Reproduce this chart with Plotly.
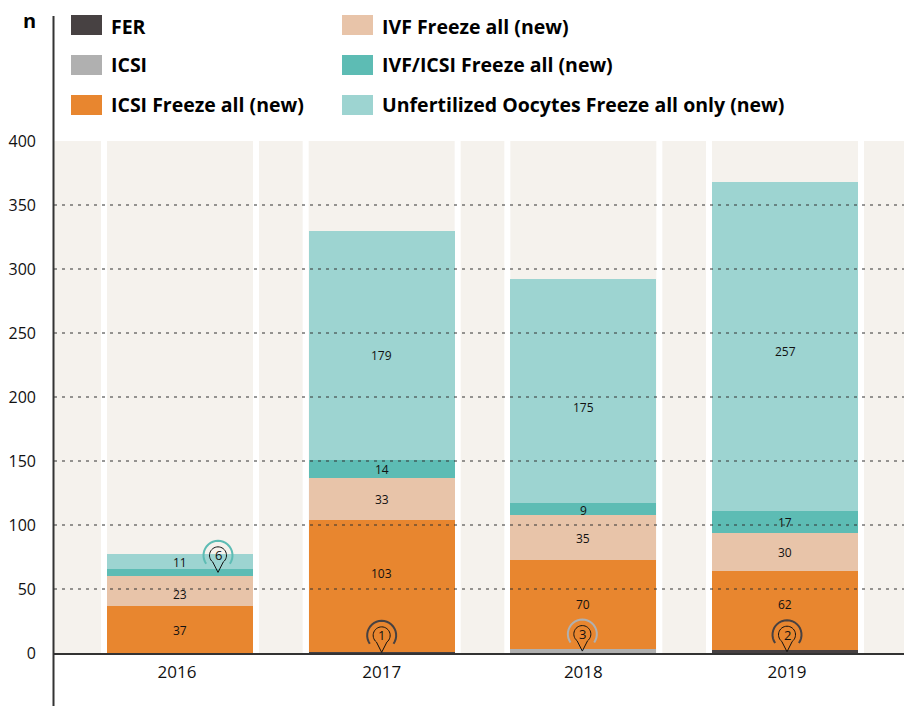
import math
import plotly.graph_objects as go

years = ["2016", "2017", "2018", "2019"]
fer = [0, 1, 0, 2]
icsi = [0, 0, 3, 0]
icsi_freeze = [37, 103, 70, 62]
ivf_freeze = [23, 33, 35, 30]
ivf_icsi_freeze = [6, 14, 9, 17]
oocytes_freeze = [11, 179, 175, 257]
y_ticks = [0, 50, 100, 150, 200, 250, 300, 350, 400]

names = ["FER", "ICSI", "ICSI Freeze all (new)", "IVF Freeze all (new)",
         "IVF/ICSI Freeze all (new)", "Unfertilized Oocytes Freeze all only (new)"]
colors = ["#474142", "#b0b0b0", "#e8862f", "#e8c4a9", "#5dbcb4", "#9dd4d1"]
series = [fer, icsi, icsi_freeze, ivf_freeze, ivf_icsi_freeze, oocytes_freeze]

W, H = 904, 706
L, T, B = 54, 141, 53
PW, PH = W - L, H - T - B
STEP = 201.67
X0 = (54 - 180) / STEP
X1 = (904 - 180) / STEP
BAR = 146 / STEP
FONT = "Open Sans"
BG = "#f5f2ed"
INK = "#333333"


def px(x):
    return (x - L) / PW


def py(y):
    return (H - B - y) / PH


idx = list(range(len(years)))
fig = go.Figure()
for name, col, vals in zip(names, colors, series):
    fig.add_bar(x=idx, y=vals, name=name, width=BAR, marker=dict(color=col, line=dict(width=0)),
                showlegend=False)

shapes = []
# white frames and pale panels behind each column
for i in idx:
    hw = 158 / STEP / 2
    shapes.append(dict(type="rect", xref="x", yref="y", x0=i - hw, x1=i + hw, y0=0, y1=400,
                       fillcolor="white", line_width=0, layer="below"))
    shapes.append(dict(type="rect", xref="x", yref="y", x0=i - BAR / 2, x1=i + BAR / 2, y0=0, y1=400,
                       fillcolor=BG, line_width=0, layer="below"))
# dotted grid lying over the bars
for t in y_ticks[1:-1]:
    shapes.append(dict(type="line", xref="paper", yref="y", x0=0, x1=1, y0=t, y1=t,
                       line=dict(color=INK, width=1, dash="3px,5px"), layer="above"))
# vertical axis overshooting the plot
shapes.append(dict(type="line", xref="paper", yref="paper", x0=px(53.5), x1=px(53.5), y0=py(706), y1=py(16),
                   line=dict(color=INK, width=2), layer="above"))

annotations = []
# legend
legend_text_y = [26, 64, 104]
legend_box_y = [25, 65, 105]
for k, (name, col) in enumerate(zip(names, colors)):
    col_x = 71 if k < 3 else 342
    cy = legend_box_y[k % 3]
    shapes.append(dict(type="rect", xref="paper", yref="paper", x0=px(col_x), x1=px(col_x + 31),
                       y0=py(cy + 10), y1=py(cy - 10), fillcolor=col, line_width=0))
    annotations.append(dict(xref="paper", yref="paper", x=px(col_x + 38), y=py(legend_text_y[k % 3]),
                            text=f"<b>{name}</b>", showarrow=False, xanchor="left", yanchor="middle",
                            font=dict(family=FONT, size=19.5, color="#000000")))
annotations.append(dict(xref="paper", yref="paper", x=px(29), y=py(20), text="<b>n</b>", showarrow=False,
                        xanchor="center", yanchor="middle",
                        font=dict(family=FONT, size=20, color="#000000")))

# value labels, centred in their segments; a few sit off-centre
label_series = [2, 3, 4, 5]
label_shift = {(1, 2): 13, (2, 2): 1, (3, 2): 7, (0, 3): -3, (1, 5): -9, (2, 5): -15, (3, 5): -4}
bases = [[sum(series[s][i] for s in range(k)) for i in idx] for k in range(len(series))]
for s in label_series:
    for i in idx:
        if s == 4 and i == 0:
            continue
        annotations.append(dict(x=i, y=bases[s][i] + series[s][i] / 2, text=str(series[s][i]),
                                yshift=label_shift.get((i, s), 0) - 1, showarrow=False,
                                font=dict(family=FONT, size=12, color="#111111")))

# pin callouts for the thin segments
pins = [(0, 4, 38 / STEP), (1, 0, 0), (2, 1, -1 / STEP), (3, 0, 2 / STEP)]


def arc_path(r, cy, a0, a1, n=24):
    pts = []
    for j in range(n + 1):
        a = math.radians(a0 + (a1 - a0) * j / n)
        pts.append((r * math.cos(a), cy + r * math.sin(a)))
    return "M" + " L".join(f"{x:.2f},{y:.2f}" for x, y in pts)


def pin_path(r, cy):
    pts = [(0, 0)]
    n = 30
    for j in range(n + 1):
        a = math.radians(-52 + (232 + 52) * j / n)
        pts.append((r * math.cos(a), cy + r * math.sin(a)))
    return "M" + " L".join(f"{x:.2f},{y:.2f}" for x, y in pts) + " Z"


for i, s, off in pins:
    tip_y = bases[s][i] + series[s][i] / 2
    common = dict(type="path", xref="x", yref="y", xsizemode="pixel", ysizemode="pixel",
                  xanchor=i + off, yanchor=tip_y, layer="above")
    shapes.append(dict(common, path=arc_path(14.5, 17, -35, 215),
                       line=dict(color=colors[s], width=2)))
    shapes.append(dict(common, path=pin_path(8.5, 17), line=dict(color="#111111", width=1)))
    annotations.append(dict(x=i + off, y=tip_y, yshift=17, text=str(series[s][i]), showarrow=False,
                            font=dict(family=FONT, size=13, color="#111111")))

tick_offsets = [-3 / STEP, 0, 0, 2 / STEP]
fig.update_layout(
    width=W, height=H, barmode="stack", bargap=0.27,
    margin=dict(l=L, r=0, t=T, b=B, pad=0, autoexpand=False),
    paper_bgcolor="white", plot_bgcolor=BG,
    shapes=shapes, annotations=annotations,
    font=dict(family=FONT, size=16, color="#111111"),
    xaxis=dict(range=[X0, X1], tickmode="array", tickvals=[i + o for i, o in zip(idx, tick_offsets)],
               ticktext=years, showgrid=False,
               zeroline=False, showline=True, linecolor=INK, linewidth=2, ticks="", ticklabelstandoff=3,
               tickfont=dict(family=FONT, size=17), layer="above traces"),
    yaxis=dict(range=[0, 400], tickmode="array", tickvals=y_ticks, showgrid=False, zeroline=False,
               showline=False, ticks="", ticklabelstandoff=17,
               tickfont=dict(family=FONT, size=16)),
)
fig.write_html("out.html", config={"displayModeBar": False},
               post_script="document.body.style.margin='0';")
